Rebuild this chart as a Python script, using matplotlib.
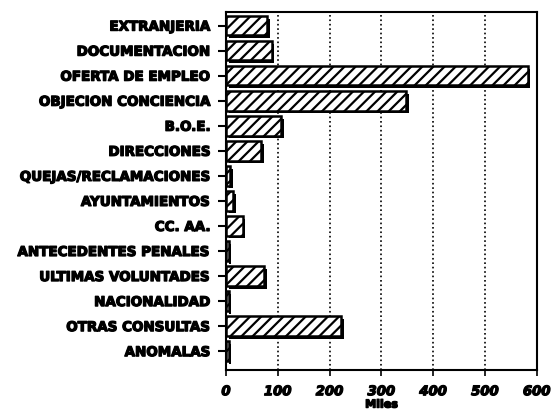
import numpy as np
import matplotlib
matplotlib.use('Agg')
import matplotlib.pyplot as plt
import matplotlib.patheffects as pe

categories = [
    'EXTRANJERIA', 'DOCUMENTACION', 'OFERTA DE EMPLEO', 'OBJECION CONCIENCIA',
    'B.O.E.', 'DIRECCIONES', 'QUEJAS/RECLAMACIONES', 'AYUNTAMIENTOS',
    'CC. AA.', 'ANTECEDENTES PENALES', 'ULTIMAS VOLUNTADES', 'NACIONALIDAD',
    'OTRAS CONSULTAS', 'ANOMALAS',
]
values = [80, 88, 582, 348, 106, 68, 8, 14, 32, 5, 74, 5, 222, 5]
xticks = [0, 100, 200, 300, 400, 500, 600]

plt.rcParams['font.family'] = ['DejaVu Sans']
plt.rcParams['hatch.linewidth'] = 1.6

fig = plt.figure(figsize=(5.54, 4.14), dpi=100)
ax = fig.add_axes([0.408, 0.104, 0.561, 0.865])

pos = np.arange(len(categories))
bars = ax.barh(pos, values, 0.78, color='white', edgecolor='black',
               linewidth=1.8, hatch='///', zorder=3)
for b in bars:
    b.set_path_effects([pe.SimplePatchShadow(offset=(2, -2), shadow_rgbFace='black', alpha=1.0),
                        pe.Normal()])

thick = [pe.withStroke(linewidth=0.9, foreground='black')]

ax.set_xlim(0, 600)
ax.set_ylim(13.75, -0.55)
ax.set_xticks(xticks)
ax.set_xticklabels([str(t) for t in xticks], fontweight='bold', fontstyle='italic',
                   fontsize=9.5, path_effects=thick)
ax.set_yticks(pos)
ax.set_yticklabels(categories, fontweight='bold', fontsize=9.7, path_effects=thick)
ax.tick_params(axis='y', length=6, width=1.5, direction='out', pad=5)
ax.tick_params(axis='x', length=4, width=1.2, direction='out', pad=7)
ax.xaxis.grid(True, linestyle=':', color='black', linewidth=1.2, zorder=0)
for s in ax.spines.values():
    s.set_linewidth(1.5)
ax.set_xlabel('Miles', fontweight='bold', fontsize=8, labelpad=1, path_effects=thick)

fig.savefig('out.png', dpi=100)
